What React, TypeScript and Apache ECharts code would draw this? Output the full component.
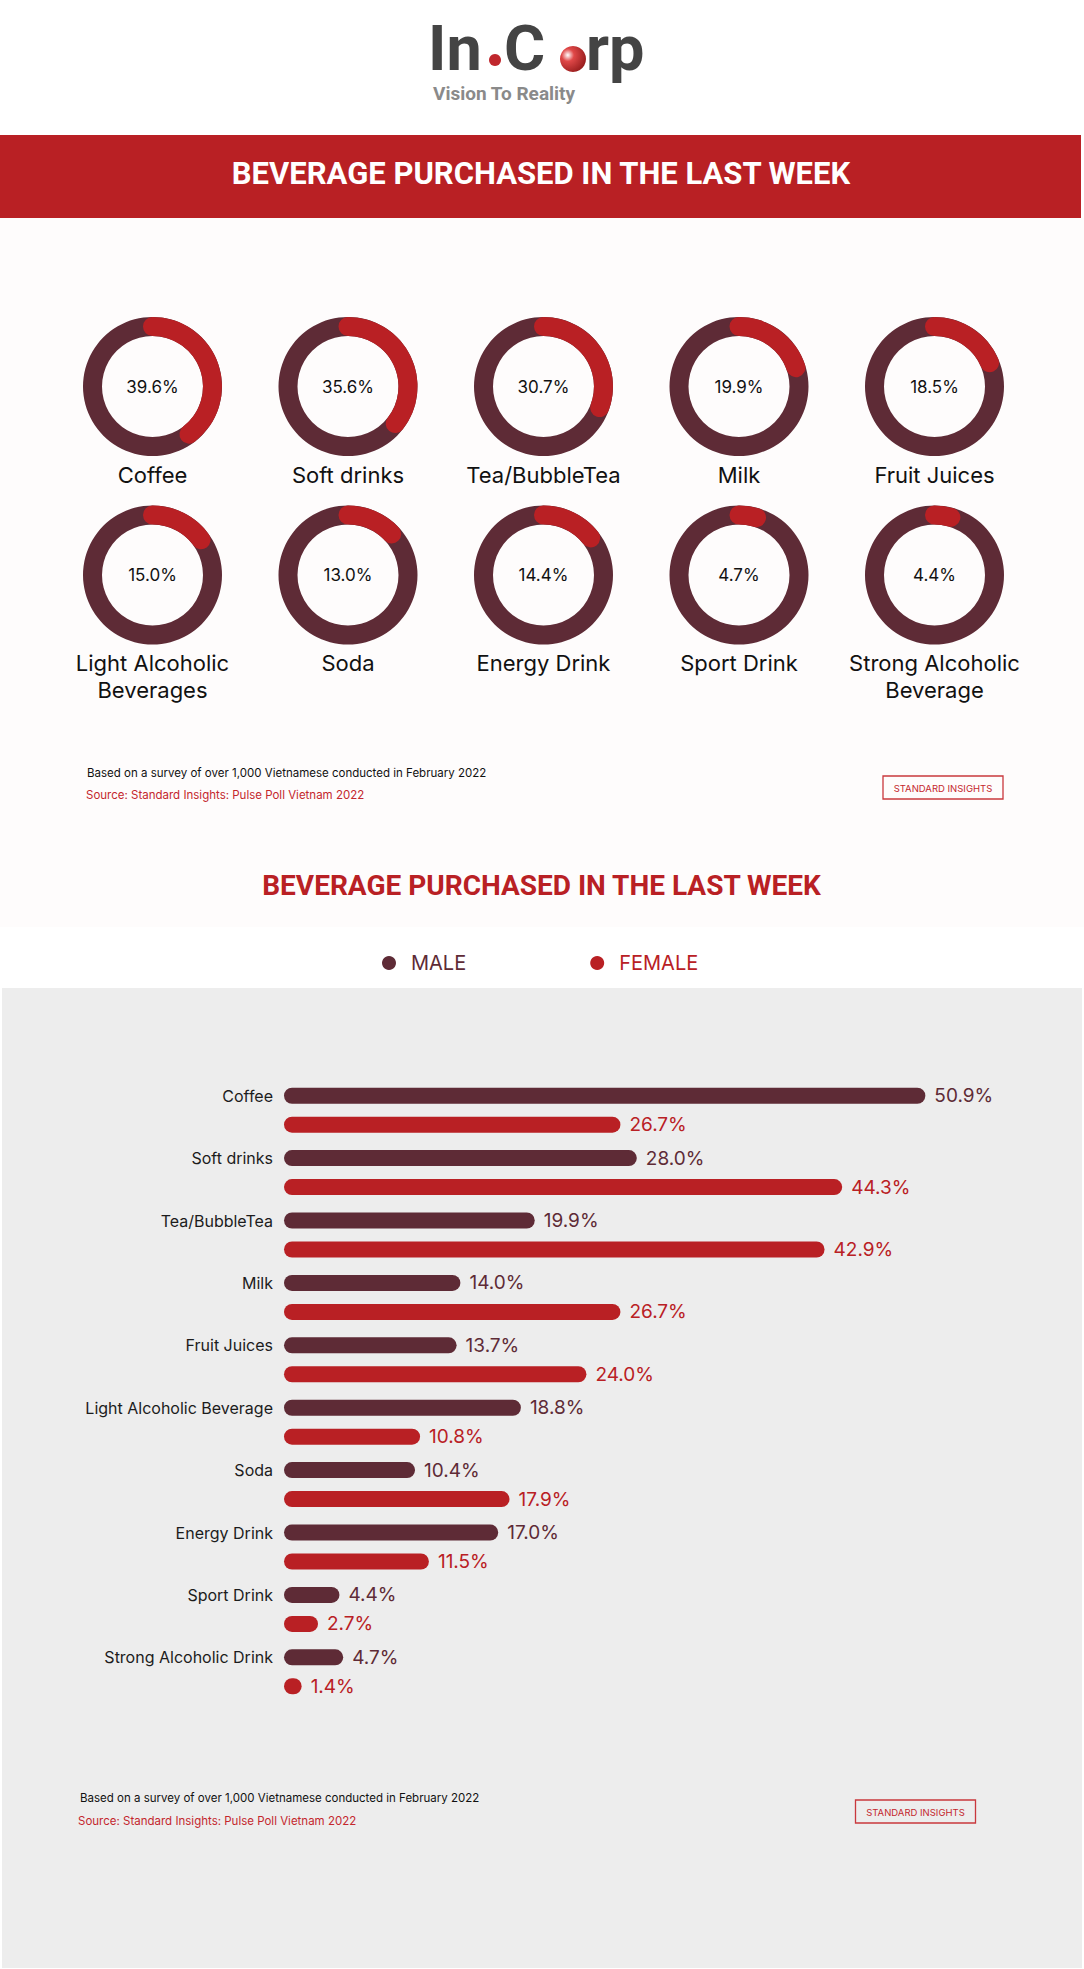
import React, { useEffect, useRef } from "react";
import * as echarts from "echarts";

const donutCategories = [
  "Coffee",
  "Soft drinks",
  "Tea/BubbleTea",
  "Milk",
  "Fruit Juices",
  "Light Alcoholic\nBeverages",
  "Soda",
  "Energy Drink",
  "Sport Drink",
  "Strong Alcoholic\nBeverage",
];
const donutValues = [39.6, 35.6, 30.7, 19.9, 18.5, 15.0, 13.0, 14.4, 4.7, 4.4];

const barCategories = [
  "Coffee",
  "Soft drinks",
  "Tea/BubbleTea",
  "Milk",
  "Fruit Juices",
  "Light Alcoholic Beverage",
  "Soda",
  "Energy Drink",
  "Sport Drink",
  "Strong Alcoholic Drink",
];
const maleValues = [50.9, 28.0, 19.9, 14.0, 13.7, 18.8, 10.4, 17.0, 4.4, 4.7];
const femaleValues = [26.7, 44.3, 42.9, 26.7, 24.0, 10.8, 17.9, 11.5, 2.7, 1.4];
const seriesNames = ["MALE", "FEMALE"];

const TITLE = "BEVERAGE PURCHASED IN THE LAST WEEK";
const NOTE = "Based on a survey of over 1,000 Vietnamese conducted in February 2022";
const SOURCE = "Source: Standard Insights: Pulse Poll Vietnam 2022";
const BADGE = "STANDARD INSIGHTS";

const MAROON = "#5e2b36";
const RED = "#b92024";
const W = 1084;
const H = 1969;

function footer(noteX: number, noteY: number, srcX: number, srcY: number, bx: number, by: number) {
  return [
    {
      type: "text",
      x: noteX,
      y: noteY,
      style: { text: NOTE, fill: "#111", fontSize: 11.5, fontFamily: "Inter", align: "left", verticalAlign: "middle" },
    },
    {
      type: "text",
      x: srcX,
      y: srcY,
      style: { text: SOURCE, fill: "#c4272d", fontSize: 11.5, fontFamily: "Inter", align: "left", verticalAlign: "middle" },
    },
    {
      type: "rect",
      shape: { x: bx, y: by, width: 120, height: 23 },
      style: { fill: "none", stroke: "#c9383d", lineWidth: 1.3 },
    },
    {
      type: "text",
      x: bx + 60,
      y: by + 12,
      style: { text: BADGE, fill: "#c4272d", fontSize: 9.5, fontFamily: "Inter", align: "center", verticalAlign: "middle" },
    },
  ];
}

export default function App() {
  const ref = useRef<HTMLDivElement>(null);
  useEffect(() => {
    document.body.style.margin = "0";
    if (!ref.current) return;
    const chart = echarts.init(ref.current, null, { renderer: "svg" });

    const gauges = donutValues.map((v, i) => {
      const col = i % 5;
      const row = Math.floor(i / 5);
      const lines = donutCategories[i].split("\n").length;
      return {
        type: "gauge",
        center: [152.5 + col * 195.5, row === 0 ? 386.5 : 575],
        radius: 69.5,
        startAngle: 90,
        endAngle: -270,
        min: 0,
        max: 100,
        pointer: { show: false },
        anchor: { show: false },
        axisTick: { show: false },
        splitLine: { show: false },
        axisLabel: { show: false },
        axisLine: { lineStyle: { width: 19, color: [[1, MAROON]] } },
        progress: { show: true, width: 19, roundCap: true, itemStyle: { color: RED } },
        title: {
          offsetCenter: [0, 88 + (lines - 1) * 13.5],
          fontSize: 22,
          lineHeight: 27,
          color: "#111",
          fontFamily: "Inter",
        },
        detail: {
          offsetCenter: [0, 0],
          fontSize: 17,
          fontWeight: "normal",
          color: "#111",
          fontFamily: "Inter",
          formatter: (val: number) => val.toFixed(1) + "%",
        },
        data: [{ value: v, name: donutCategories[i] }],
      };
    });

    const barLabel = (color: string) => ({
      show: true,
      position: "right",
      distance: 9,
      fontSize: 19,
      fontFamily: "Inter",
      color,
      formatter: (p: any) => Number(p.value).toFixed(1) + "%",
    });

    chart.setOption({
      animation: false,
      backgroundColor: "#ffffff",
      graphic: {
        elements: [
          { type: "rect", z: -10, shape: { x: 0, y: 218, width: W, height: 709 }, style: { fill: "#fefcfc" } },
          { type: "rect", z: -10, shape: { x: 2, y: 988, width: 1080, height: 980 }, style: { fill: "#ededed" } },
          // logo
          { type: "text", x: 428, y: 48, style: { text: "In", fill: "#444444", fontSize: 63, fontWeight: "bold", fontFamily: "Roboto", align: "left", verticalAlign: "middle" } },
          { type: "circle", shape: { cx: 495, cy: 60, r: 6 }, style: { fill: "#c0272d" } },
          { type: "text", x: 504, y: 48, style: { text: "C", fill: "#444444", fontSize: 63, fontWeight: "bold", fontFamily: "Roboto", align: "left", verticalAlign: "middle" } },
          {
            type: "circle",
            shape: { cx: 573, cy: 59, r: 13 },
            style: {
              fill: {
                type: "radial",
                x: 0.3,
                y: 0.35,
                r: 0.8,
                colorStops: [
                  { offset: 0, color: "#ffffff" },
                  { offset: 0.3, color: "#e04848" },
                  { offset: 1, color: "#8e1717" },
                ],
              },
            },
          },
          { type: "text", x: 586, y: 48, style: { text: "rp", fill: "#444444", fontSize: 63, fontWeight: "bold", fontFamily: "Roboto", align: "left", verticalAlign: "middle" } },
          { type: "text", x: 433, y: 93, style: { text: "Vision To Reality", fill: "#8a8a8a", fontSize: 19, fontWeight: "bold", fontFamily: "Roboto", align: "left", verticalAlign: "middle" } },
          // banner
          { type: "rect", shape: { x: 0, y: 135, width: 1081, height: 83 }, style: { fill: RED } },
          { type: "text", x: 541, y: 173, style: { text: TITLE, fill: "#ffffff", fontSize: 31, fontWeight: "bold", fontFamily: "Roboto", align: "center", verticalAlign: "middle" } },
          ...footer(87, 773, 86, 795, 883, 776),
          { type: "text", x: 541.5, y: 885, style: { text: TITLE, fill: RED, fontSize: 28, fontWeight: "bold", fontFamily: "Roboto", align: "center", verticalAlign: "middle" } },
          ...footer(80, 1798, 78, 1821, 855.5, 1800),
        ],
      },
      legend: {
        left: 377,
        top: 948,
        icon: "circle",
        itemWidth: 14,
        itemHeight: 14,
        itemGap: 124,
        data: [
          { name: seriesNames[0], textStyle: { color: MAROON } },
          { name: seriesNames[1], textStyle: { color: RED } },
        ],
        textStyle: { fontSize: 20, fontFamily: "Inter", padding: [0, 0, 0, 10] },
      },
      grid: { left: 284, width: 756, top: 1079, height: 624, containLabel: false },
      xAxis: { type: "value", min: 0, max: 60, show: false },
      yAxis: {
        type: "category",
        data: barCategories,
        inverse: true,
        axisLine: { show: false },
        axisTick: { show: false },
        splitLine: { show: false },
        axisLabel: {
          margin: 11,
          fontSize: 16,
          fontFamily: "Inter",
          color: "#1c1c1c",
          verticalAlign: "bottom",
          lineHeight: 29,
        },
      },
      series: [
        ...gauges,
        {
          name: seriesNames[0],
          type: "bar",
          data: maleValues,
          barWidth: 16,
          barGap: "81%",
          itemStyle: { color: MAROON, borderRadius: 8 },
          label: barLabel(MAROON),
        },
        {
          name: seriesNames[1],
          type: "bar",
          data: femaleValues,
          barWidth: 16,
          barGap: "81%",
          itemStyle: { color: RED, borderRadius: 8 },
          label: barLabel(RED),
        },
      ],
    });
    return () => chart.dispose();
  }, []);
  return <div ref={ref} style={{ width: W, height: H }} />;
}
